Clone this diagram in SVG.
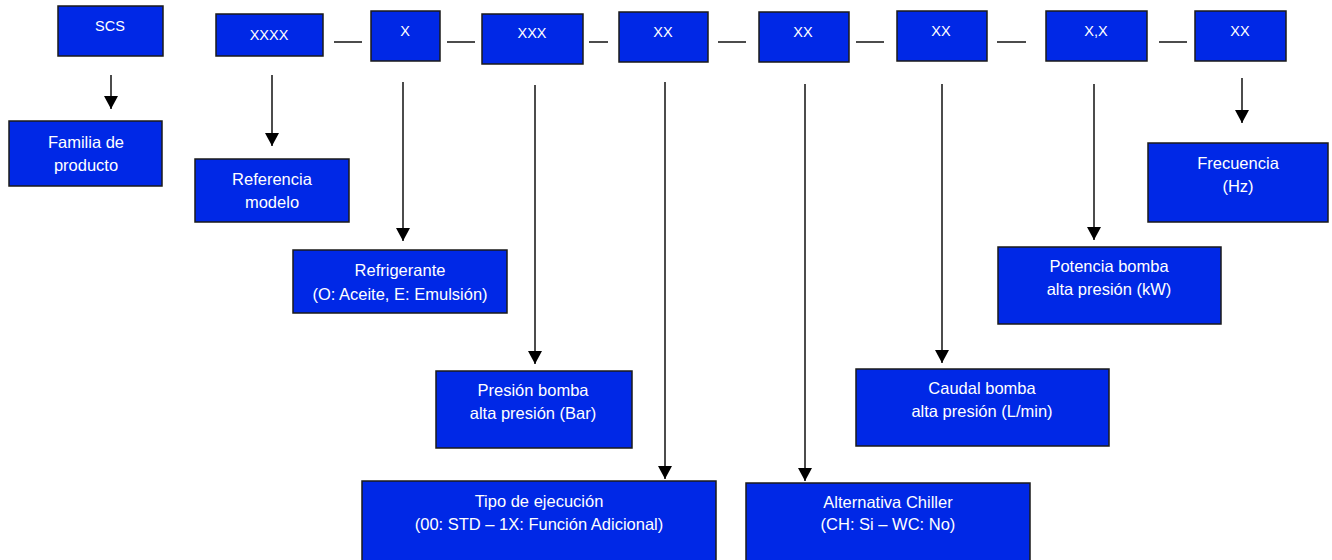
<svg xmlns="http://www.w3.org/2000/svg" width="1332" height="560" viewBox="0 0 1332 560">
<defs>
<marker id="ah" markerWidth="13" markerHeight="14" refX="13" refY="7" orient="auto" markerUnits="userSpaceOnUse" viewBox="0 0 13 14">
<path d="M0,0 L13,7 L0,14 Z" fill="#000"/>
</marker>
<style>
.b{fill:#0028E6;stroke:#1a1a1a;stroke-width:1.5}
.t{font-family:"Liberation Sans",Arial,sans-serif;font-size:14.5px;fill:#ffffff;text-anchor:middle}
.l{font-size:16.5px}
.c{stroke:#111;stroke-width:1.5;fill:none}
.a{stroke:#111;stroke-width:1.5;fill:none;marker-end:url(#ah)}
</style>
</defs>
<rect width="1332" height="560" fill="#ffffff"/>
<g id="connectors">
<line class="c" x1="334" y1="42" x2="362" y2="42"/>
<line class="c" x1="447" y1="42" x2="475" y2="42"/>
<line class="c" x1="589" y1="42" x2="608" y2="42"/>
<line class="c" x1="718" y1="42" x2="746" y2="42"/>
<line class="c" x1="856" y1="42" x2="884" y2="42"/>
<line class="c" x1="997" y1="42" x2="1026" y2="42"/>
<line class="c" x1="1159" y1="42" x2="1187" y2="42"/>
<line class="a" x1="111" y1="75" x2="111" y2="109"/>
<line class="a" x1="272" y1="75" x2="272" y2="146"/>
<line class="a" x1="403" y1="82" x2="403" y2="241"/>
<line class="a" x1="535" y1="85" x2="535" y2="364"/>
<line class="a" x1="665" y1="82" x2="665" y2="479"/>
<line class="a" x1="805" y1="84" x2="805" y2="481"/>
<line class="a" x1="942" y1="84" x2="942" y2="363"/>
<line class="a" x1="1094" y1="84" x2="1094" y2="240"/>
<line class="a" x1="1242" y1="78" x2="1242" y2="123"/>
</g>
<g id="n-scs"><rect class="b" x="58" y="6" width="105" height="50"/><text class="t" x="110" y="31">SCS</text></g>
<g id="n-xxxx"><rect class="b" x="216" y="14" width="107" height="42"/><text class="t" x="269" y="40">XXXX</text></g>
<g id="n-x"><rect class="b" x="371" y="11" width="69" height="50"/><text class="t" x="405" y="36">X</text></g>
<g id="n-xxx"><rect class="b" x="482" y="14" width="101" height="50"/><text class="t" x="532" y="38">XXX</text></g>
<g id="n-xx1"><rect class="b" x="619" y="12" width="89" height="50"/><text class="t" x="663" y="37">XX</text></g>
<g id="n-xx2"><rect class="b" x="759" y="12" width="90" height="50"/><text class="t" x="803" y="37">XX</text></g>
<g id="n-xx3"><rect class="b" x="897" y="11" width="90" height="50"/><text class="t" x="941" y="36">XX</text></g>
<g id="n-xcx"><rect class="b" x="1046" y="11" width="101" height="50"/><text class="t" x="1096" y="36">X,X</text></g>
<g id="n-xx4"><rect class="b" x="1195" y="11" width="91" height="50"/><text class="t" x="1240" y="36">XX</text></g>
<g id="n-familia"><rect class="b" x="9" y="121" width="153" height="65"/><text class="t l" x="86" y="148">Familia de</text><text class="t l" x="86" y="171">producto</text></g>
<g id="n-referencia"><rect class="b" x="195" y="159" width="154" height="63"/><text class="t l" x="272" y="185">Referencia</text><text class="t l" x="272" y="208">modelo</text></g>
<g id="n-refrigerante"><rect class="b" x="293" y="250" width="214" height="63"/><text class="t l" x="400" y="276">Refrigerante</text><text class="t l" x="400" y="300">(O: Aceite, E: Emulsión)</text></g>
<g id="n-presion"><rect class="b" x="436" y="371" width="196" height="77"/><text class="t l" x="533" y="396">Presión bomba</text><text class="t l" x="533" y="419">alta presión (Bar)</text></g>
<g id="n-tipo"><rect class="b" x="362" y="481" width="354" height="82"/><text class="t l" x="539" y="507">Tipo de ejecución</text><text class="t l" x="539" y="530">(00: STD – 1X: Función Adicional)</text></g>
<g id="n-alternativa"><rect class="b" x="746" y="483" width="284" height="80"/><text class="t l" x="888" y="508">Alternativa Chiller</text><text class="t l" x="888" y="530">(CH: Si – WC: No)</text></g>
<g id="n-caudal"><rect class="b" x="856" y="369" width="253" height="77"/><text class="t l" x="982" y="394">Caudal bomba</text><text class="t l" x="982" y="417">alta presión (L/min)</text></g>
<g id="n-potencia"><rect class="b" x="998" y="247" width="223" height="77"/><text class="t l" x="1109" y="272">Potencia bomba</text><text class="t l" x="1109" y="295">alta presión (kW)</text></g>
<g id="n-frecuencia"><rect class="b" x="1148" y="143" width="180" height="79"/><text class="t l" x="1238" y="169">Frecuencia</text><text class="t l" x="1238" y="192">(Hz)</text></g>
</svg>
